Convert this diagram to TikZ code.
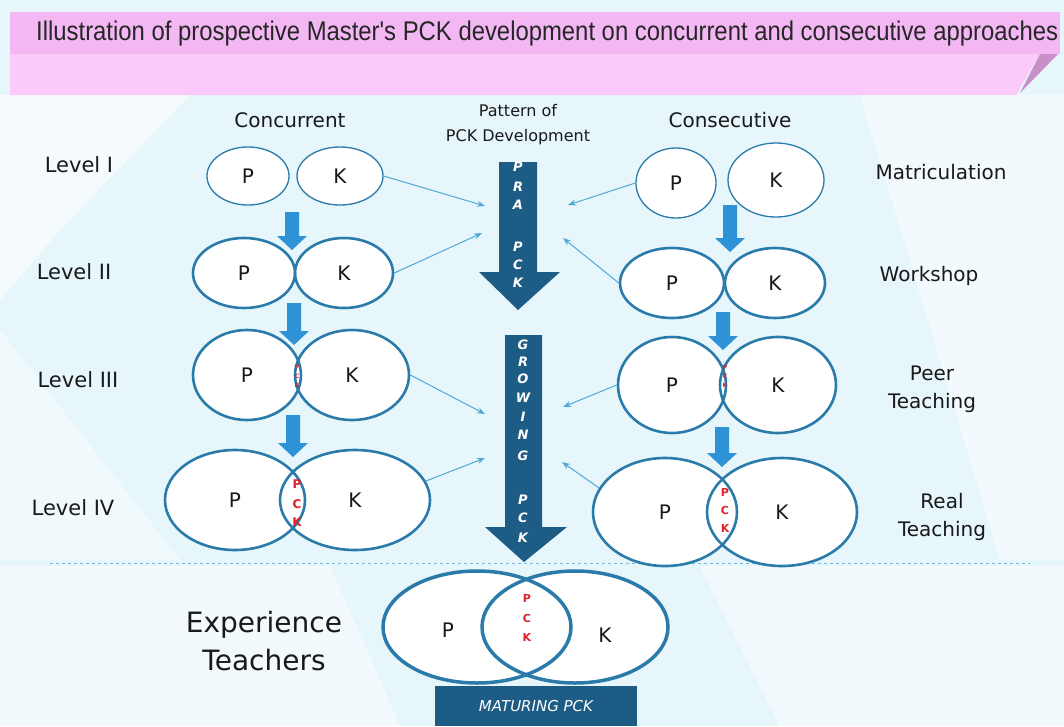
\documentclass[tikz,border=0pt]{standalone}
\usepackage{fontspec}
\setmainfont{DejaVu Sans}
\newfontfamily\titlefont{Liberation Sans}
\usetikzlibrary{shapes.geometric,arrows.meta}
\definecolor{ellblue}{HTML}{2B7BAA}
\definecolor{darkarrow}{HTML}{1D5C84}
\definecolor{smallblue}{HTML}{2E93D6}
\definecolor{linkblue}{HTML}{4FA9D8}
\definecolor{pinkA}{HTML}{F3B8F3}
\definecolor{pinkB}{HTML}{FBCAFB}
\definecolor{pinkC}{HTML}{C98FC9}
\definecolor{bgcyan}{HTML}{E6F6FB}
\definecolor{pckred}{HTML}{E0202A}
\newcommand\bluearrow[3]{\fill[smallblue] (#1-7,#2) -- (#1+7,#2) -- (#1+7,#3-14) -- (#1+15,#3-14) -- (#1,#3) -- (#1-15,#3-14) -- (#1-7,#3-14) -- cycle;}
\newcommand\whiteell[4]{\fill[white] (#1,#2) ellipse [x radius=#3, y radius=#4];}
\begin{document}
\begin{tikzpicture}[x=1pt,y=-1pt,
 lab/.style={font=\fontsize{20}{28}\selectfont, text=black!90, align=center, inner sep=0pt},
 ell/.style={ellipse, draw=ellblue, line width=2.6pt, inner sep=0pt, font=\fontsize{20}{20}\selectfont, text=black!90},
 thinell/.style={ell, line width=1.3pt},
 link/.style={draw=linkblue, line width=1pt, -{Stealth[length=8pt,width=6pt]}},
 pck/.style={text=pckred, font=\bfseries\fontsize{#1}{#1}\selectfont, inner sep=0pt},
 vert/.style={text=white, font=\itshape\bfseries\fontsize{13}{13}\selectfont, inner sep=0pt},
]
\useasboundingbox (0,0) rectangle (1064,726);
% background
\fill[bgcyan] (0,0) rectangle (1064,726);
\fill[white, opacity=0.6] (0,95) -- (190,95) -- (60,230) -- (0,300) -- cycle;
\fill[white, opacity=0.4] (0,330) -- (180,560) -- (0,560) -- cycle;
\fill[white, opacity=0.5] (860,95) -- (1064,95) -- (1064,560) -- (1000,560) -- cycle;
\fill[white, opacity=0.5] (0,566) -- (330,566) -- (400,726) -- (0,726) -- cycle;
\fill[white, opacity=0.5] (700,566) -- (1064,566) -- (1064,726) -- (780,726) -- cycle;
% banner
\fill[pinkB] (10,50) -- (1042,50) -- (1016,95) -- (10,95) -- cycle;
\fill[pinkA] (10,12) rectangle (1060,54);
\fill[pinkC] (1040,54) -- (1058,54) -- (1020,93) -- cycle;
\node[anchor=west, inner sep=0pt, text=black!85] (title) at (36,34)
 {\resizebox{1022pt}{\height}{\titlefont\fontsize{27}{27}\selectfont Illustration of prospective Master's PCK development on concurrent and consecutive approaches}};
% headers
\node[lab] (hconc) at (290,120) {Concurrent};
\node[lab] (hcons) at (730,120) {Consecutive};
\node[lab, font=\fontsize{16}{25}\selectfont] (hpat) at (518,125) {Pattern of\\PCK Development};
\node[lab, font=\fontsize{21}{28}\selectfont] (lv1) at (79,165) {Level I};
\node[lab, font=\fontsize{21}{28}\selectfont] (lv2) at (74,272) {Level II};
\node[lab, font=\fontsize{21}{28}\selectfont] (lv3) at (78,380) {Level III};
\node[lab, font=\fontsize{21}{28}\selectfont] (lv4) at (73,508) {Level IV};
\node[lab] (st1) at (941,172) {Matriculation};
\node[lab] (st2) at (929,276) {Workshop};
\node[lab] (st3) at (932,389) {Peer\\Teaching};
\node[lab] (st4) at (942,517) {Real\\Teaching};
% dashed separator
\draw[linkblue!80, dashed, line width=1pt] (50,563) -- (1030,563);
% central arrows
\fill[darkarrow] (499,162) -- (537,162) -- (537,272) -- (560,272) -- (518,310) -- (479,272) -- (499,272) -- cycle;
\fill[darkarrow] (505,335) -- (542,335) -- (542,527) -- (567,527) -- (524,562) -- (485,527) -- (505,527) -- cycle;
\foreach \l/\y in {P/167,R/187,A/205,P/247,C/265,K/283}
  \node[vert] (pra\y) at (518,\y) {\l};
\foreach \l/\y in {G/345,R/362,O/379,W/398,I/417,N/435,G/456,P/500,C/518,K/538}
  \node[vert] (grw\y) at (523,\y) {\l};
% concurrent ellipses
\whiteell{248}{176}{41}{29}\whiteell{340}{176}{43}{29}
\node[thinell, minimum width=82pt, minimum height=58pt] (c1p) at (248,176) {P};
\node[thinell, minimum width=86pt, minimum height=58pt] (c1k) at (340,176) {K};
\whiteell{244}{273}{51}{35}\whiteell{344}{273}{49}{35}
\node[ell, minimum width=102pt, minimum height=70pt] (c2p) at (244,273) {P};
\node[ell, minimum width=98pt, minimum height=70pt] (c2k) at (344,273) {K};
\whiteell{247}{375}{54}{45}\whiteell{352}{375}{57}{45}
\node[ell, minimum width=108pt, minimum height=90pt] (c3p) at (247,375) {P};
\node[ell, minimum width=114pt, minimum height=90pt] (c3k) at (352,375) {K};
\whiteell{235}{500}{70}{50}\whiteell{355}{500}{75}{50}
\node[ell, minimum width=140pt, minimum height=100pt] (c4p) at (235,500) {P};
\node[ell, minimum width=150pt, minimum height=100pt] (c4k) at (355,500) {K};
% consecutive ellipses
\whiteell{676}{183}{40}{35}\whiteell{776}{180}{48}{37}
\node[thinell, minimum width=80pt, minimum height=70pt] (r1p) at (676,183) {P};
\node[thinell, minimum width=96pt, minimum height=74pt] (r1k) at (776,180) {K};
\whiteell{672}{283}{52}{35}\whiteell{775}{283}{50}{35}
\node[ell, minimum width=104pt, minimum height=70pt] (r2p) at (672,283) {P};
\node[ell, minimum width=100pt, minimum height=70pt] (r2k) at (775,283) {K};
\whiteell{672}{385}{54}{48}\whiteell{778}{385}{58}{48}
\node[ell, minimum width=108pt, minimum height=96pt] (r3p) at (672,385) {P};
\node[ell, minimum width=116pt, minimum height=96pt] (r3k) at (778,385) {K};
\whiteell{665}{512}{72}{54}\whiteell{782}{512}{75}{54}
\node[ell, minimum width=144pt, minimum height=108pt] (r4p) at (665,512) {P};
\node[ell, minimum width=150pt, minimum height=108pt] (r4k) at (782,512) {K};
% experienced teachers
\node[lab, font=\fontsize{28}{38}\selectfont] (exp) at (264,641) {Experience\\Teachers};
\whiteell{477}{627}{94}{56}\whiteell{575}{627}{93}{56}
\node[ell, line width=3.5pt, minimum width=188pt, minimum height=112pt] (bp) at (477,627) {};
\node[ell, line width=3.5pt, minimum width=186pt, minimum height=112pt] (bk) at (575,627) {};
\node[font=\fontsize{20}{20}\selectfont, text=black!90] (bptext) at (448,630) {P};
\node[font=\fontsize{20}{20}\selectfont, text=black!90] (bktext) at (605,635) {K};
\node[rectangle, fill=darkarrow, minimum width=202pt, minimum height=40pt, text=white,
  font=\itshape\fontsize{15}{15}\selectfont] (mat) at (536,706) {MATURING PCK};
% red PCK
\foreach \l/\y in {P/367,C/376,K/385} \node[pck=6] (ca\y) at (297,\y) {\l};
\foreach \l/\y in {P/367,C/376,K/385} \node[pck=6] (ra\y) at (725,\y) {\l};
\foreach \l/\y in {P/484,C/504,K/522} \node[pck=12] (cb\y) at (297,\y) {\l};
\foreach \l/\y in {P/492,C/510,K/528} \node[pck=11] (rb\y) at (725,\y) {\l};
\foreach \l/\y in {P/598,C/618,K/637} \node[pck=11] (bb\y) at (527,\y) {\l};
% small blue arrows
\bluearrow{292}{212}{250}
\bluearrow{294}{303}{345}
\bluearrow{293}{415}{457}
\bluearrow{730}{205}{252}
\bluearrow{723}{312}{350}
\bluearrow{722}{427}{467}
% connectors
\coordinate (a1) at (485,206);
\coordinate (a2) at (482,233);
\coordinate (a3) at (485,414);
\coordinate (a4) at (485,458);
\coordinate (b1) at (568,205);
\coordinate (b2) at (563,238);
\coordinate (b3) at (563,407);
\coordinate (b4) at (562,462);
\draw[link] (c1k.east) -- (a1);
\draw[link] (c2k.east) -- (a2);
\draw[link] (c3k.east) -- (a3);
\draw[link] (c4k.15) -- (a4);
\draw[link] (r1p.west) -- (b1);
\draw[link] (r2p.west) -- (b2);
\draw[link] (r3p.west) -- (b3);
\draw[link] (r4p.160) -- (b4);
\end{tikzpicture}
\end{document}
